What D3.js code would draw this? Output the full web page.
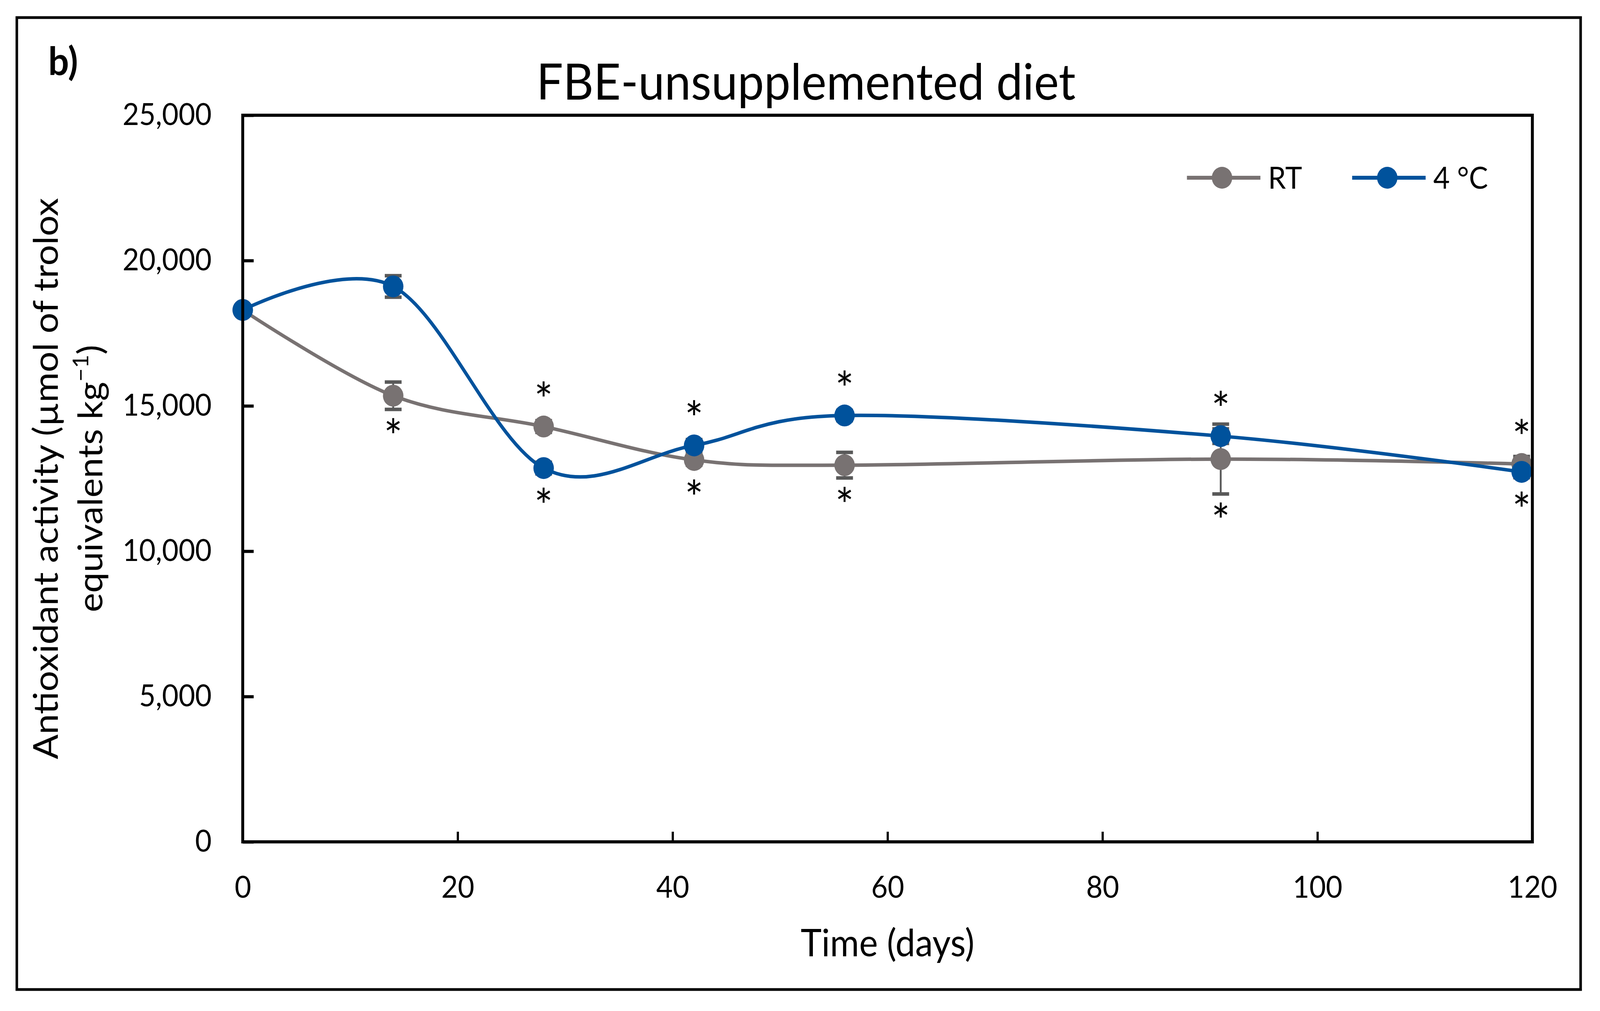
<!DOCTYPE html>
<html lang="en">
<head>
    <meta charset="utf-8">
    <title>FBE-unsupplemented diet</title>
    <script src="https://cdn.jsdelivr.net/npm/d3@7"></script>
    <style>
        html, body { margin: 0; padding: 0; background: #fff; overflow: hidden; }
        #chart { display: block; width: 100vw; height: 100vh; }
        text { font-family: Lato, "Open Sans", sans-serif; fill: #000; }
    </style>
</head>
<body>
    <svg id="chart" viewBox="0 0 4377 2588" preserveAspectRatio="none"></svg>
    <script>
        // storage time (days)
        const days = [0, 14, 28, 42, 56, 91, 119];

        // antioxidant activity, room temperature
        const rtValues = [18300, 15350, 14290, 13140, 12960, 13170, 13000];
        const rtErrors = [150, 470, 200, 180, 440, 1200, 260];

        // antioxidant activity, 4 °C
        const coldValues = [18300, 19110, 12860, 13640, 14670, 13960, 12730];
        const coldErrors = [150, 370, 200, 200, 180, 250, 200];

        const seriesNames = ['RT', '4 °C'];
        const seriesColors = ['#787272', '#00529c'];

        const yTicks = [0, 5000, 10000, 15000, 20000, 25000];
        const xTicks = [0, 20, 40, 60, 80, 100, 120];

        // significance marks: day, series, side of the point
        const asterisks = [
            { day: 14, series: 'RT', side: 'below' },
            { day: 28, series: 'RT', side: 'above' },
            { day: 28, series: '4 °C', side: 'below' },
            { day: 42, series: '4 °C', side: 'above' },
            { day: 42, series: 'RT', side: 'below' },
            { day: 56, series: '4 °C', side: 'above' },
            { day: 56, series: 'RT', side: 'below' },
            { day: 91, series: '4 °C', side: 'above' },
            { day: 91, series: 'RT', side: 'below' },
            { day: 119, series: 'RT', side: 'above' },
            { day: 119, series: '4 °C', side: 'below' }
        ];

        const plot = { left: 664, right: 4192, top: 295, bottom: 2155 };
        const markerR = 28;

        const svg = d3.select('#chart');

        // outer border
        svg.append('rect')
            .attr('x', 46).attr('y', 45)
            .attr('width', 4278).attr('height', 2488)
            .attr('fill', 'none')
            .attr('stroke', '#000')
            .attr('stroke-width', 7);

        let scaleX = d3.scaleLinear().domain([0, 120]).range([plot.left, plot.right]);
        let scaleY = d3.scaleLinear().domain([0, 25000]).range([plot.bottom, plot.top]);

        // axes, ticks point inward
        let yAxis = svg.append('g')
            .attr('transform', `translate(${plot.left},0)`)
            .call(d3.axisLeft(scaleY)
                .tickValues(yTicks)
                .tickFormat(d3.format(','))
                .tickSize(-30)
                .tickPadding(85));
        yAxis.select('.domain').remove();
        yAxis.selectAll('line').attr('stroke', '#000').attr('stroke-width', 8);
        yAxis.selectAll('text').attr('font-size', 78).attr('font-family', 'Lato');

        let xAxis = svg.append('g')
            .attr('transform', `translate(0,${plot.bottom})`)
            .call(d3.axisBottom(scaleX)
                .tickValues(xTicks)
                .tickSize(-26)
                .tickPadding(88));
        xAxis.select('.domain').remove();
        xAxis.selectAll('line').attr('stroke', '#000').attr('stroke-width', 6);
        xAxis.selectAll('text').attr('font-size', 78).attr('font-family', 'Lato');

        let line = d3.line()
            .x(d => scaleX(d.day))
            .y(d => scaleY(d.value))
            .curve(d3.curveCardinal.tension(0));

        const allSeries = [
            { name: seriesNames[0], color: seriesColors[0],
              points: days.map((d, i) => ({ day: d, value: rtValues[i], err: rtErrors[i] })) },
            { name: seriesNames[1], color: seriesColors[1],
              points: days.map((d, i) => ({ day: d, value: coldValues[i], err: coldErrors[i] })) }
        ];

        for (let s of allSeries) {
            let g = svg.append('g');
            g.append('path')
                .datum(s.points)
                .attr('fill', 'none')
                .attr('stroke', s.color)
                .attr('stroke-width', 9)
                .attr('d', line);

            let eb = g.selectAll('.err')
                .data(s.points)
                .enter()
                .append('g');
            eb.append('line')
                .attr('x1', d => scaleX(d.day)).attr('x2', d => scaleX(d.day))
                .attr('y1', d => scaleY(d.value - d.err)).attr('y2', d => scaleY(d.value + d.err))
                .attr('stroke', '#595959').attr('stroke-width', 5);
            eb.append('line')
                .attr('x1', d => scaleX(d.day) - 23).attr('x2', d => scaleX(d.day) + 23)
                .attr('y1', d => scaleY(d.value - d.err)).attr('y2', d => scaleY(d.value - d.err))
                .attr('stroke', '#595959').attr('stroke-width', 9);
            eb.append('line')
                .attr('x1', d => scaleX(d.day) - 23).attr('x2', d => scaleX(d.day) + 23)
                .attr('y1', d => scaleY(d.value + d.err)).attr('y2', d => scaleY(d.value + d.err))
                .attr('stroke', '#595959').attr('stroke-width', 9);

            g.selectAll('circle')
                .data(s.points)
                .enter()
                .append('circle')
                .attr('cx', d => scaleX(d.day))
                .attr('cy', d => scaleY(d.value))
                .attr('r', markerR)
                .attr('fill', s.color);
        }

        // asterisks placed past the marker or the error bar
        svg.append('g')
            .selectAll('text')
            .data(asterisks)
            .enter()
            .append('text')
            .attr('x', d => scaleX(d.day))
            .attr('y', d => {
                let s = allSeries.find(a => a.name == d.series);
                let p = s.points.find(q => q.day == d.day);
                let errPx = scaleY(p.value - p.err) - scaleY(p.value);
                let off = Math.max(errPx, markerR) + 55;
                let cy = scaleY(p.value) + (d.side == 'above' ? -off : off);
                return cy + 58;
            })
            .attr('text-anchor', 'middle')
            .attr('font-size', 120)
            .text('*');

        // plot frame
        svg.append('rect')
            .attr('x', plot.left).attr('y', plot.top)
            .attr('width', plot.right - plot.left).attr('height', plot.bottom - plot.top)
            .attr('fill', 'none')
            .attr('stroke', '#000')
            .attr('stroke-width', 8);

        // legend
        const legendX = [3247, 3699];
        let lg = svg.append('g')
            .selectAll('g')
            .data(allSeries)
            .enter()
            .append('g')
            .attr('transform', (d, i) => `translate(${legendX[i]},455)`);
        lg.append('line')
            .attr('x1', 0).attr('x2', 201)
            .attr('stroke', d => d.color).attr('stroke-width', 10);
        lg.append('circle')
            .attr('cx', 96).attr('r', markerR)
            .attr('fill', d => d.color);
        lg.append('text')
            .attr('x', 222).attr('y', 28)
            .attr('font-size', 78)
            .text(d => d.name);

        // titles
        svg.append('text')
            .attr('x', 2205).attr('y', 255)
            .attr('text-anchor', 'middle')
            .attr('font-size', 129)
            .text('FBE-unsupplemented diet');

        svg.append('text')
            .attr('x', 132).attr('y', 192)
            .attr('font-size', 100)
            .attr('font-weight', 'bold')
            .text('b)');

        svg.append('text')
            .attr('x', (plot.left + plot.right) / 2).attr('y', 2448)
            .attr('text-anchor', 'middle')
            .attr('font-size', 97)
            .text('Time (days)');

        let yTitle = svg.append('text')
            .attr('transform', `translate(158,${(plot.top + plot.bottom) / 2}) rotate(-90)`)
            .attr('text-anchor', 'middle')
            .attr('font-size', 94);
        yTitle.append('tspan')
            .attr('x', 0).attr('y', 0)
            .text('Antioxidant activity (µmol of trolox');
        let l2 = yTitle.append('tspan')
            .attr('x', 0).attr('y', 122)
            .text('equivalents kg');
        l2.append('tspan')
            .attr('font-size', 60)
            .attr('dy', -38)
            .text('−1');
        l2.append('tspan')
            .attr('dy', 38)
            .text(')');
    </script>
</body>
</html>
